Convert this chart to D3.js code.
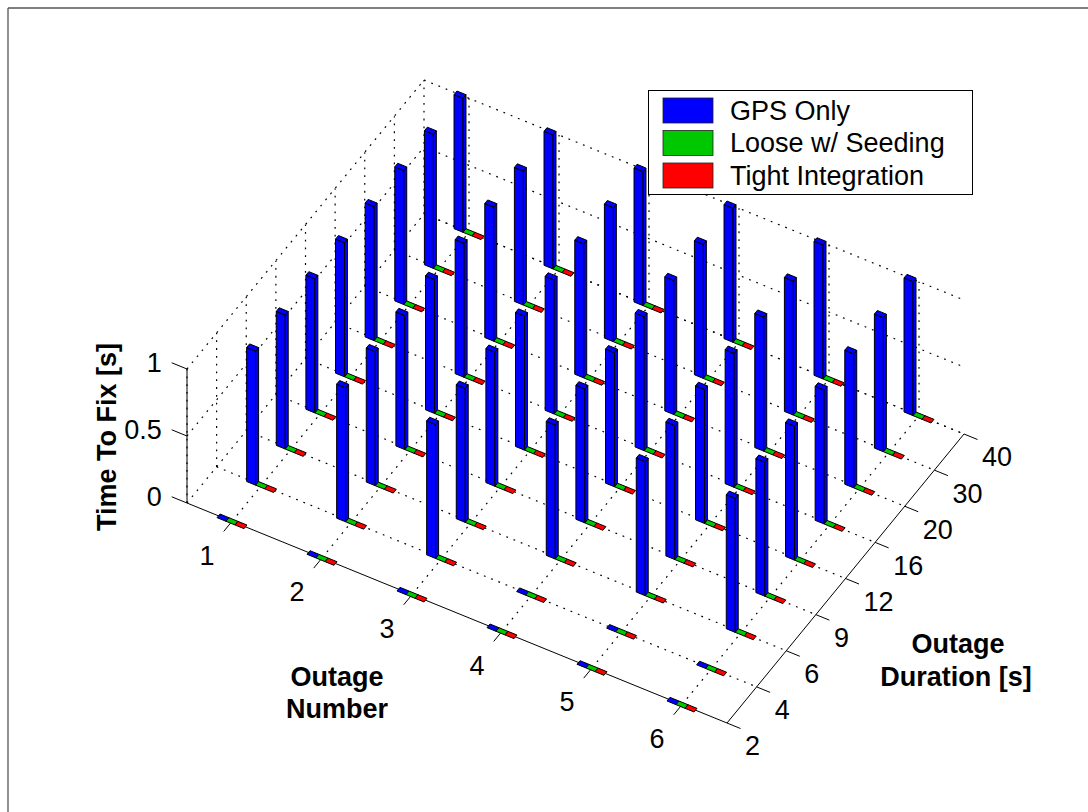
<!DOCTYPE html>
<html>
<head>
<meta charset="utf-8">
<script src="https://cdn.jsdelivr.net/npm/d3@7"></script>
<style>
  html, body { margin: 0; padding: 0; background: #fff; }
  svg { display: block; }
  text { font-family: "Liberation Sans", Arial, sans-serif; fill: #000; }
</style>
</head>
<body>
<svg id="chart" width="1088" height="812"></svg>
<script>
// Outage numbers (x), outage durations in seconds (y), time-to-fix ticks (z)
const outages = [1, 2, 3, 4, 5, 6];
const durations = [2, 4, 6, 9, 12, 16, 20, 30, 40];
const timeTicks = [0, 0.5, 1];

const seriesNames = ["GPS Only", "Loose w/ Seeding", "Tight Integration"];
const seriesColors = ["#0000ff", "#00c800", "#ff0000"];

// Time to fix [s]; one row per duration, one column per outage number
const gpsOnly = [
  [0, 0, 0, 0, 0, 0],
  [1, 1, 1, 0, 0, 0],
  [1, 1, 1, 1, 1, 1],
  [1, 1, 1, 1, 1, 1],
  [1, 1, 1, 1, 1, 1],
  [1, 1, 1, 1, 1, 1],
  [1, 1, 1, 1, 1, 1],
  [1, 1, 1, 1, 1, 1],
  [1, 1, 1, 1, 1, 1]
];
const looseSeeding = [
  [0, 0, 0, 0, 0, 0],
  [0, 0, 0, 0, 0, 0],
  [0, 0, 0, 0, 0, 0],
  [0, 0, 0, 0, 0, 0],
  [0, 0, 0, 0, 0, 0],
  [0, 0, 0, 0, 0, 0],
  [0, 0, 0, 0, 0, 0],
  [0, 0, 0, 0, 0, 0],
  [0, 0, 0, 0, 0, 0]
];
const tightIntegration = [
  [0, 0, 0, 0, 0, 0],
  [0, 0, 0, 0, 0, 0],
  [0, 0, 0, 0, 0, 0],
  [0, 0, 0, 0, 0, 0],
  [0, 0, 0, 0, 0, 0],
  [0, 0, 0, 0, 0, 0],
  [0, 0, 0, 0, 0, 0],
  [0, 0, 0, 0, 0, 0],
  [0, 0, 0, 0, 0, 0]
];
const seriesValues = [gpsOnly, looseSeeding, tightIntegration];

const svg = d3.select("#chart");

// ---- oblique 3-D projection built from linear scales ----
const origin = [187, 503];                       // floor corner at (x=0.5, first duration, z=0)
const xLim = [0.5, 6.5];
const yIndex = d3.scalePoint().domain(durations).range([0, 8]);
const xToPx = d3.scaleLinear().domain(xLim).range([0, 540]);
const xToPy = d3.scaleLinear().domain(xLim).range([0, 220]);
const yToPx = d3.scaleLinear().domain([0, 8]).range([0, 237]);
const yToPy = d3.scaleLinear().domain([0, 8]).range([0, -289]);
const zScale = d3.scaleLinear().domain([0, 1]).range([0, 134]);

function P(x, y, z) {
  return [origin[0] + xToPx(x) + yToPx(y), origin[1] + xToPy(x) + yToPy(y) - zScale(z)];
}
const line = d3.line();

// ---- figure frame (top and left edges) ----
svg.append("line").attr("x1", 8).attr("y1", 8).attr("x2", 1088).attr("y2", 8)
  .attr("stroke", "#555").attr("stroke-width", 1.3);
svg.append("line").attr("x1", 8).attr("y1", 8).attr("x2", 8).attr("y2", 812)
  .attr("stroke", "#555").attr("stroke-width", 1.3);

// ---- dotted grid: floor, left wall, back wall ----
const grid = svg.append("g").attr("fill", "none").attr("stroke", "#000")
  .attr("stroke-width", 1.2).attr("stroke-dasharray", "1.8,6");
const yMax = 8;
const gridSegs = [];
outages.forEach(o => gridSegs.push([P(o, 0, 0), P(o, yMax, 0)]));            // floor, along duration
durations.forEach((d, i) => { if (i > 0) gridSegs.push([P(xLim[0], yIndex(d), 0), P(xLim[1], yIndex(d), 0)]); });
durations.forEach(d => gridSegs.push([P(xLim[0], yIndex(d), 0), P(xLim[0], yIndex(d), 1)])); // left wall verticals
timeTicks.forEach(t => gridSegs.push([P(xLim[0], 0, t), P(xLim[0], yMax, t)]));             // left wall horizontals
outages.forEach(o => gridSegs.push([P(o, yMax, 0), P(o, yMax, 1)]));          // back wall verticals
timeTicks.forEach(t => gridSegs.push([P(xLim[0], yMax, t), P(xLim[1], yMax, t)]));          // back wall horizontals
grid.selectAll("path").data(gridSegs).join("path").attr("d", d => line(d));

// ---- axis lines and tick marks ----
const axes = svg.append("g").attr("stroke", "#000").attr("stroke-width", 1).attr("fill", "none");
axes.append("path").attr("d", line([P(xLim[0], 0, 0), P(xLim[0], 0, 1)]));
axes.append("path").attr("d", line([P(xLim[0], 0, 0), P(xLim[1], 0, 0)]));
axes.append("path").attr("d", line([P(xLim[1], 0, 0), P(xLim[1], yMax, 0)]));
timeTicks.forEach(t => axes.append("path").attr("d", line([P(xLim[0], 0, t), P(xLim[0] - 0.17, 0, t)])));
outages.forEach(o => axes.append("path").attr("d", line([P(o, 0, 0), P(o, -0.28, 0)])));
durations.forEach(d => axes.append("path").attr("d", line([P(xLim[1], yIndex(d), 0), P(xLim[1] + 0.15, yIndex(d), 0)])));

// ---- bars: three thin boxes per cell, drawn back to front ----
const barW = 0.1, barD = 0.1;
const bars = [];
durations.forEach((d, r) => {
  outages.forEach((o, c) => {
    seriesValues.forEach((vals, s) => {
      const x0 = o - 1.5 * barW + s * barW;
      const yc = yIndex(d);
      bars.push({ x0, x1: x0 + barW, y0: yc - barD / 2, y1: yc + barD / 2, h: vals[r][c], color: seriesColors[s], r, s, c });
    });
  });
});
bars.sort((a, b) => (b.r - a.r) || (a.c - b.c) || (a.s - b.s));

const barG = svg.append("g").attr("stroke", "#000").attr("stroke-width", 1).attr("stroke-linejoin", "round");
bars.forEach(b => {
  const g = barG.append("g").attr("fill", b.color);
  if (b.h > 0) {
    g.append("path").attr("d", line([P(b.x0, b.y0, 0), P(b.x1, b.y0, 0), P(b.x1, b.y0, b.h), P(b.x0, b.y0, b.h)]) + "Z");
    g.append("path").attr("d", line([P(b.x1, b.y0, 0), P(b.x1, b.y1, 0), P(b.x1, b.y1, b.h), P(b.x1, b.y0, b.h)]) + "Z");
  }
  g.append("path").attr("d", line([P(b.x0, b.y0, b.h), P(b.x1, b.y0, b.h), P(b.x1, b.y1, b.h), P(b.x0, b.y1, b.h)]) + "Z");
});

// ---- tick labels ----
const tickFont = 27;
const zFmt = d3.format("");
timeTicks.forEach(t => {
  const p = P(xLim[0] - 0.17, 0, t);
  svg.append("text").attr("x", p[0] - 10).attr("y", p[1]).attr("dy", "0.35em")
    .attr("text-anchor", "end").attr("font-size", tickFont).text(zFmt(t));
});
outages.forEach(o => {
  const p = P(o, 0, 0);
  svg.append("text").attr("x", p[0] - 25).attr("y", p[1] + 34).attr("dy", "0.35em")
    .attr("text-anchor", "middle").attr("font-size", tickFont).text(o);
});
durations.forEach(d => {
  const p = P(xLim[1], yIndex(d), 0);
  svg.append("text").attr("x", p[0] + 18).attr("y", p[1] + 23).attr("dy", "0.35em")
    .attr("text-anchor", "start").attr("font-size", tickFont).text(d);
});

// ---- axis titles ----
svg.append("text").attr("transform", "translate(116,437) rotate(-90)")
  .attr("text-anchor", "middle").attr("font-size", 27).attr("font-weight", "bold")
  .text("Time To Fix [s]");
const xTitle = svg.append("text").attr("text-anchor", "middle").attr("font-size", 27).attr("font-weight", "bold");
xTitle.append("tspan").attr("x", 337).attr("y", 686).text("Outage");
xTitle.append("tspan").attr("x", 337).attr("y", 718).text("Number");
const yTitle = svg.append("text").attr("text-anchor", "middle").attr("font-size", 27).attr("font-weight", "bold");
yTitle.append("tspan").attr("x", 958).attr("y", 653).text("Outage");
yTitle.append("tspan").attr("x", 956).attr("y", 686).text("Duration [s]");

// ---- legend ----
const legend = svg.append("g");
legend.append("rect").attr("x", 648.5).attr("y", 90.5).attr("width", 324).attr("height", 104)
  .attr("fill", "#fff").attr("stroke", "#000").attr("stroke-width", 1);
const rowY = d3.scalePoint().domain(seriesNames).range([110.5, 175.5]);
seriesNames.forEach((n, i) => {
  legend.append("rect").attr("x", 663).attr("y", rowY(n) - 12.5).attr("width", 50).attr("height", 25)
    .attr("fill", seriesColors[i]).attr("stroke", "#222").attr("stroke-width", 0.8);
  legend.append("text").attr("x", 730).attr("y", rowY(n)).attr("dy", "0.35em")
    .attr("font-size", 27).text(n);
});
</script>
</body>
</html>
